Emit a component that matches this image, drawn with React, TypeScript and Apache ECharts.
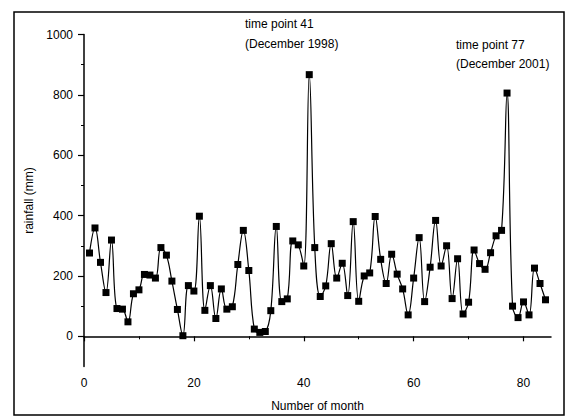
import React, { useEffect, useRef } from "react";
import * as echarts from "echarts";

const months: number[] = Array.from({ length: 84 }, (_, i) => i + 1);
const rainfall: number[] = [
  276, 359, 245, 145, 319, 92, 90, 48, 141, 154,
  205, 203, 193, 294, 269, 183, 89, 2, 168, 150,
  398, 86, 168, 59, 157, 90, 98, 238, 351, 218,
  24, 13, 16, 85, 364, 115, 124, 316, 303, 233,
  867, 294, 132, 167, 307, 193, 242, 135, 380, 116,
  200, 210, 397, 255, 175, 272, 206, 157, 71, 193,
  327, 115, 229, 384, 233, 300, 125, 257, 74, 113,
  286, 241, 222, 277, 333, 351, 806, 100, 62, 114,
  71, 226, 175, 121,
];
const xMajorTicks: number[] = [0, 20, 40, 60, 80];
const xMinorTicks: number[] = [10, 30, 50, 70];
const yMajorTicks: number[] = [0, 200, 400, 600, 800, 1000];
const yMinorTicks: number[] = [100, 300, 500, 700, 900];
const annotations: string[][] = [
  ["time point 41", "(December 1998)"],
  ["time point 77", "(December 2001)"],
];

const FONT = "'Liberation Sans', Arial, sans-serif";

export default function App() {
  const ref = useRef<HTMLDivElement>(null);
  useEffect(() => {
    if (!ref.current) return;
    const chart = echarts.init(ref.current, null, { renderer: "svg" });
    const data = months.map((m, i) => [m, rainfall[i]]);
    const plain = (v: number) => String(v);
    chart.setOption({
      animation: false,
      backgroundColor: "#fff",
      textStyle: { fontFamily: FONT },
      grid: { left: 84, right: 18, top: 34.5, bottom: 50.5, containLabel: false },
      xAxis: [
        {
          type: "value",
          min: 0,
          max: 85,
          name: "Number of month",
          nameLocation: "middle",
          nameGap: 33,
          nameTextStyle: { color: "#000", fontSize: 12, fontFamily: FONT },
          axisLine: { show: true, lineStyle: { color: "#000", width: 1.5 } },
          axisTick: {
            show: true,
            length: 5,
            customValues: xMajorTicks,
            lineStyle: { color: "#000", width: 1.2 },
          },
          axisLabel: {
            color: "#000",
            fontSize: 12,
            margin: 10,
            customValues: xMajorTicks,
            formatter: plain,
            fontFamily: FONT,
          },
          splitLine: { show: false },
        },
        {
          type: "value",
          min: 0,
          max: 85,
          position: "bottom",
          axisLine: { show: false },
          axisTick: {
            show: true,
            length: 3,
            customValues: xMinorTicks,
            lineStyle: { color: "#000", width: 1 },
          },
          axisLabel: { show: false },
          splitLine: { show: false },
        },
      ],
      yAxis: [
        {
          type: "value",
          min: -100,
          max: 1000,
          name: "rainfall (mm)",
          nameLocation: "middle",
          nameRotate: 90,
          nameGap: 46,
          nameTextStyle: { color: "#000", fontSize: 12, fontFamily: FONT },
          axisLine: { show: true, lineStyle: { color: "#000", width: 1.5 } },
          axisTick: {
            show: true,
            length: 6,
            customValues: yMajorTicks,
            lineStyle: { color: "#000", width: 1.2 },
          },
          axisLabel: {
            color: "#000",
            fontSize: 12,
            margin: 11,
            customValues: yMajorTicks,
            formatter: plain,
            fontFamily: FONT,
          },
          splitLine: { show: false },
        },
        {
          type: "value",
          min: -100,
          max: 1000,
          position: "left",
          axisLine: { show: false },
          axisTick: {
            show: true,
            length: 3,
            customValues: yMinorTicks,
            lineStyle: { color: "#000", width: 1 },
          },
          axisLabel: { show: false },
          splitLine: { show: false },
        },
      ],
      series: [
        {
          type: "line",
          data,
          smooth: 0.4,
          symbol: "rect",
          symbolSize: 7,
          itemStyle: { color: "#000" },
          lineStyle: { color: "#000", width: 1.2 },
        },
      ],
      graphic: [
        {
          type: "rect",
          shape: { x: 14, y: 12, width: 550, height: 403 },
          style: { fill: "none", stroke: "#000", lineWidth: 1.5 },
          silent: true,
        },
        {
          type: "text",
          x: 245,
          y: 18,
          style: { text: annotations[0][0], fill: "#000", font: `12px ${FONT}` },
        },
        {
          type: "text",
          x: 245,
          y: 38,
          style: { text: annotations[0][1], fill: "#000", font: `12px ${FONT}` },
        },
        {
          type: "text",
          x: 456,
          y: 39,
          style: { text: annotations[1][0], fill: "#000", font: `12px ${FONT}` },
        },
        {
          type: "text",
          x: 456,
          y: 58,
          style: { text: annotations[1][1], fill: "#000", font: `12px ${FONT}` },
        },
      ],
    });
    return () => chart.dispose();
  }, []);
  return (
    <div
      ref={ref}
      style={{ position: "absolute", left: 0, top: 0, width: 569, height: 417 }}
    />
  );
}
